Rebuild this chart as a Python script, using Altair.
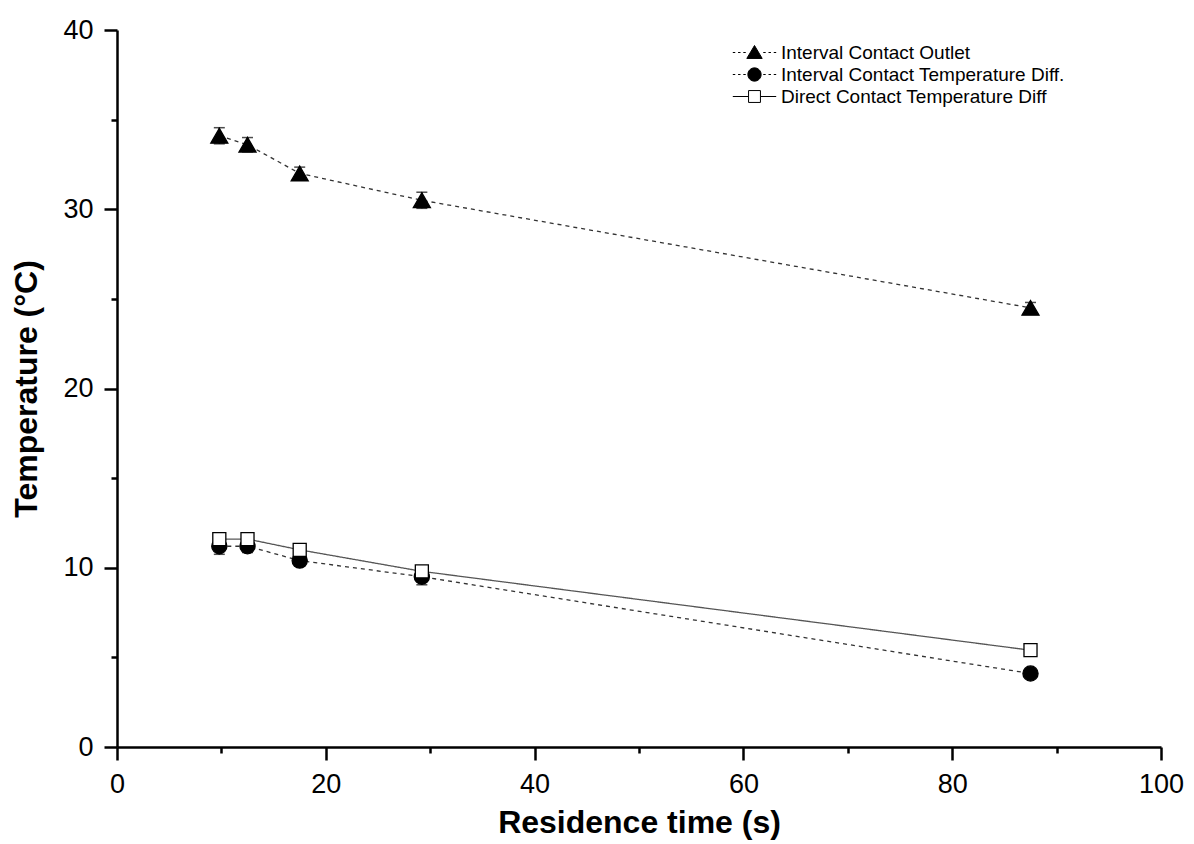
import altair as alt
import pandas as pd

# ---- data ----
residence_time = [9.8, 12.5, 17.5, 29.2, 87.5]
series_names = [
    "Interval Contact Outlet",
    "Interval Contact Temperature Diff.",
    "Direct Contact Temperature Diff",
]
outlet_temp = [34.1, 33.6, 32.0, 30.5, 24.5]
outlet_err = [0.45, 0.4, 0.35, 0.45, 0.3]
interval_diff = [11.2, 11.2, 10.4, 9.5, 4.1]
interval_err = [0.45, 0.35, 0.3, 0.45, 0.2]
direct_diff = [11.6, 11.6, 11.0, 9.8, 5.4]
direct_err = [0.25, 0.25, 0.2, 0.25, 0.1]

x_ticks = list(range(0, 101, 10))
y_ticks = list(range(0, 41, 5))

rows = []
for name, vals, errs in zip(series_names,
                            [outlet_temp, interval_diff, direct_diff],
                            [outlet_err, interval_err, direct_err]):
    for x, v, e in zip(residence_time, vals, errs):
        rows.append({"series": name, "t": x, "temp": v,
                     "lo": v - e, "hi": v + e})
df = pd.DataFrame(rows)

FONT = "Liberation Sans"

x_enc = alt.X("t:Q", scale=alt.Scale(domain=[0, 100], nice=False),
              axis=alt.Axis(values=x_ticks, labelFlush=False,
                            labelExpr="datum.value % 20 === 0 ? datum.label : ''",
                            tickSize={"condition": {"test": "datum.value % 20 === 0", "value": 13}, "value": 6},
                            title="Residence time (s)"))
y_enc = alt.Y("temp:Q", scale=alt.Scale(domain=[0, 40], nice=False),
              axis=alt.Axis(values=y_ticks, labelFlush=False,
                            labelExpr="datum.value % 10 === 0 ? datum.label : ''",
                            tickSize={"condition": {"test": "datum.value % 10 === 0", "value": 13}, "value": 6},
                            title="Temperature (°C)"))

base = alt.Chart(df)

lines = base.mark_line(strokeWidth=1.3, interpolate="linear").encode(
    x=x_enc, y=y_enc,
    detail="series:N",
    strokeDash=alt.StrokeDash("series:N", legend=None,
                              scale=alt.Scale(domain=series_names,
                                              range=[[4, 4], [4, 4], [1, 0]])),
    stroke=alt.Stroke("series:N", legend=None,
                      scale=alt.Scale(domain=series_names,
                                      range=["#333333", "#333333", "#555555"])),
)

stems = base.mark_rule(color="black", strokeWidth=1.5).encode(
    x="t:Q", y="lo:Q", y2="hi:Q")
caps_hi = base.mark_tick(color="black", orient="horizontal", size=11, thickness=1.5).encode(
    x="t:Q", y="hi:Q")
caps_lo = base.mark_tick(color="black", orient="horizontal", size=11, thickness=1.5).encode(
    x="t:Q", y="lo:Q")

points = base.mark_point(stroke="black", strokeWidth=1.3, opacity=1).encode(
    x="t:Q", y="temp:Q",
    shape=alt.Shape("series:N", legend=None,
                    scale=alt.Scale(domain=series_names,
                                    range=["triangle-up", "circle", "square"])),
    fill=alt.Fill("series:N", legend=None,
                  scale=alt.Scale(domain=series_names,
                                  range=["black", "black", "white"])),
    size=alt.Size("series:N", legend=None,
                  scale=alt.Scale(domain=series_names, range=[290, 170, 170])),
)

# legend-only layer (no data drawn), symbols with line stubs
dash_stub = "M-3.1,0H-2.75M-2.35,0H-2.0M-1.6,0H-1.25M1.25,0H1.6M2.0,0H2.35M2.75,0H3.1"
solid_stub = "M-3.1,0H-0.9M0.9,0H3.1"
tri_path = "M0,-1.0L1.1,0.85L-1.1,0.85Z " + dash_stub
circ_path = "M-0.95,0A0.95,0.95,0,1,0,0.95,0A0.95,0.95,0,1,0,-0.95,0Z " + dash_stub
sq_path = "M-0.85,-0.85H0.85V0.85H-0.85Z " + solid_stub

legend_layer = base.transform_filter("false").mark_point(
    strokeWidth=1, opacity=1).encode(
    x="t:Q", y="temp:Q",
    shape=alt.Shape("series:N", title=None,
                    scale=alt.Scale(domain=series_names,
                                    range=[tri_path, circ_path, sq_path]),
                    legend=alt.Legend(orient="none", legendX=628, legendY=13,
                                      labelFont=FONT, labelFontSize=19,
                                      labelColor="black",
                                      labelOffset=17, rowPadding=2,
                                      symbolSize=196, symbolStrokeWidth=1,
                                      padding=0, labelLimit=400)),
    fill=alt.Fill("series:N", title=None,
                  scale=alt.Scale(domain=series_names,
                                  range=["black", "black", "white"])),
    stroke=alt.Stroke("series:N", title=None,
                      scale=alt.Scale(domain=series_names,
                                      range=["black", "black", "black"])),
)

chart = alt.layer(lines, stems, caps_hi, caps_lo, points, legend_layer).resolve_scale(
    shape="independent", fill="independent", stroke="independent"
).properties(
    width=1044, height=717,
    padding={"left": 117, "top": 30, "right": 33, "bottom": 97},
    autosize=alt.AutoSizeParams(type="none"),
    background="white",
).configure_view(stroke=None).configure_axis(
    grid=False,
    domainColor="black", domainWidth=2.5,
    tickColor="black", tickWidth=2.5,
    labelFont=FONT, labelFontSize=27, labelColor="black", labelPadding=11,
    titleFont=FONT, titleFontSize=32, titleFontWeight="bold", titleColor="black",
).configure_axisX(titlePadding=10, labelPadding=11).configure_axisY(titlePadding=19)

chart.save("out.html", embed_options={"renderer": "svg", "actions": False})
